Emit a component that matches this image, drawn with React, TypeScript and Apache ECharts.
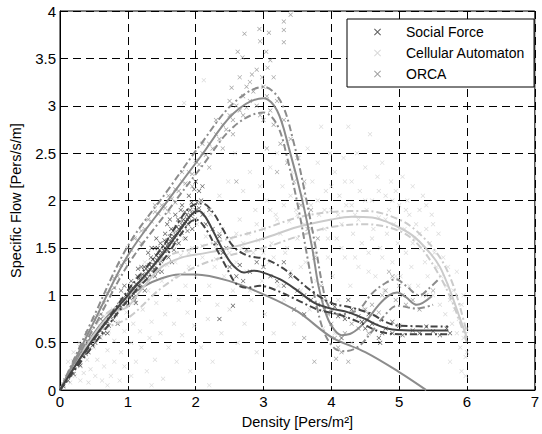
import React, { useEffect, useRef } from "react";
import * as echarts from "echarts";

// ---- Data ----
const xTicks = [0, 1, 2, 3, 4, 5, 6, 7];
const yTicks = [0, 0.5, 1, 1.5, 2, 2.5, 3, 3.5, 4];

const sfPoints: number[][] = [
  [0.05,0.04],[0.08,0.1],[0.12,0.1],[0.15,0.16],[0.18,0.2],[0.2,0.17],[0.22,0.25],[0.25,0.27],[0.28,0.3],[0.3,0.26],
  [0.33,0.36],[0.35,0.4],[0.38,0.38],[0.4,0.45],[0.42,0.4],[0.45,0.5],[0.48,0.47],[0.5,0.55],[0.52,0.5],[0.55,0.6],
  [0.58,0.56],[0.6,0.63],[0.62,0.66],[0.65,0.6],[0.68,0.7],[0.7,0.72],[0.72,0.68],[0.75,0.78],[0.78,0.74],[0.8,0.82],
  [0.82,0.8],[0.85,0.86],[0.87,0.9],[0.9,0.88],[0.92,0.95],[0.95,0.92],[0.97,1.0],[1.0,0.98],[1.02,1.04],[1.05,1.0],
  [1.07,1.08],[1.1,1.05],[1.12,1.12],[1.15,1.1],[1.17,1.18],[1.2,1.15],[1.22,1.22],[1.25,1.2],[1.27,1.28],[1.3,1.25],
  [1.32,1.32],[1.35,1.3],[1.37,1.38],[1.4,1.35],[1.42,1.42],[1.45,1.4],[1.47,1.48],[1.5,1.45],[1.52,1.52],[1.55,1.5],
  [1.57,1.56],[1.6,1.55],[1.62,1.62],[1.65,1.6],[1.67,1.68],[1.7,1.64],[1.72,1.72],[1.75,1.7],[1.77,1.78],[1.8,1.74],
  [1.82,1.8],[1.85,1.78],[1.87,1.85],[1.9,1.82],[1.92,1.9],[1.95,1.86],[1.97,1.95],[2.0,1.9],[2.02,1.98],[2.05,1.92],
  [2.08,2.0],[2.1,1.85],[0.9,1.05],[1.1,0.95],[1.2,1.3],[1.3,1.15],[1.4,1.5],[1.45,1.25],[1.55,1.65],[1.6,1.4],
  [1.7,1.85],[1.75,1.55],[1.8,1.95],[1.85,1.6],[1.9,2.05],[1.95,1.7],[2.0,2.2],[2.05,2.1],[1.98,2.12],[2.1,2.15],
  [1.65,1.35],[1.5,1.25],[1.3,1.45],[1.15,1.28],[1.0,0.9],[0.85,0.7],[0.7,0.6],[0.6,0.75],[0.45,0.55],[1.4,1.2],
  [1.25,1.05],[1.12,0.92],[1.05,1.15],[0.95,1.1],[1.35,1.5],[1.58,1.75],[1.68,1.48],[1.88,1.68],[1.78,1.9],[1.62,1.8],
  [1.42,1.6],[1.48,1.55],
  [1.03,0.97],[1.08,1.02],[1.13,1.07],[1.18,1.12],[1.23,1.17],[1.28,1.22],[1.33,1.27],[1.38,1.32],[1.43,1.37],[1.48,1.42],
  [1.53,1.47],[1.58,1.52],[1.63,1.57],[1.68,1.62],[1.73,1.66],[1.78,1.72],[1.83,1.76],[1.88,1.8],[1.93,1.84],[1.98,1.88],
  [1.04,1.1],[1.14,1.2],[1.24,1.3],[1.34,1.4],[1.44,1.5],[1.54,1.58],[1.64,1.7],[1.74,1.8],[1.84,1.88],[1.94,1.98],
  [1.09,0.98],[1.19,1.08],[1.29,1.18],[1.39,1.28],[1.49,1.36],[1.59,1.47],[1.69,1.56],[1.79,1.66],[1.89,1.75],[1.99,1.8],
  [2.15,1.75],[2.2,1.9],[2.25,1.7],[2.3,1.55],[2.35,1.62],[2.4,1.45],[2.45,1.5],[2.5,1.3],
  [2.55,0.89],[2.6,1.2],[2.65,1.32],[2.7,1.15],[2.75,1.48],[2.8,1.25],[2.9,1.35],[3.0,1.3],[3.1,1.2],[3.2,1.15],
  [3.3,1.1],[3.4,1.2],[3.5,1.05],[3.6,1.0],[3.7,0.95],[3.8,0.9],[3.9,0.85],[4.0,0.82],[4.05,0.88],[4.1,0.78],
  [4.2,0.75],[4.3,0.85],[4.4,0.78],[4.45,0.72],[4.5,0.65],[4.55,0.8],[4.6,0.7],[4.7,0.55],[4.72,0.5],[4.75,0.6],
  [4.8,0.65],[4.9,0.6],[5.0,0.68],[5.05,0.58],[5.2,0.63],[5.3,0.6],[5.4,0.67],[5.5,0.62],[5.6,0.58],[5.7,0.65],
  [5.75,0.6],[3.3,1.35],[3.6,0.8],[4.25,0.95],[4.9,0.72],[2.35,0.75],[3.45,0.85],[4.15,0.55]
];

const caPoints: number[][] = [
  [0.05,0.05],[0.1,0.12],[0.12,0.3],[0.15,0.08],[0.18,0.22],[0.2,0.4],[0.22,0.15],[0.25,0.3],[0.28,0.5],[0.3,0.1],
  [0.3,0.25],[0.32,0.42],[0.35,0.18],[0.38,0.55],[0.4,0.32],[0.42,0.08],[0.45,0.62],[0.45,0.22],[0.5,0.45],[0.52,0.15],
  [0.55,0.7],[0.55,0.32],[0.6,0.55],[0.62,0.1],[0.65,0.78],[0.65,0.25],[0.7,0.42],[0.72,0.62],[0.75,0.15],[0.78,0.85],
  [0.8,0.3],[0.8,0.52],[0.85,0.72],[0.88,0.1],[0.9,0.95],[0.9,0.4],[0.95,0.25],[0.95,0.62],[0.98,0.82],
  [1.02,1.05],[1.05,0.5],[1.05,0.15],[1.08,0.7],[1.1,0.92],[1.12,0.3],[1.15,1.2],[1.18,0.62],[1.2,0.45],[1.22,0.85],
  [1.25,1.35],[1.28,0.2],[1.3,1.05],[1.32,0.55],[1.35,0.72],[1.38,1.25],[1.4,0.32],[1.42,0.92],[1.45,1.45],[1.48,0.6],
  [1.5,1.15],[1.52,0.12],[1.55,0.8],[1.58,1.32],[1.6,0.45],[1.62,1.0],[1.65,1.5],[1.68,0.7],[1.7,1.2],[1.72,0.3],
  [1.75,0.95],[1.78,1.42],[1.8,0.58],[1.82,1.6],[1.83,3.03],[1.85,1.1],[1.88,0.82],[1.9,1.3],[1.92,0.2],[1.95,1.5],
  [1.98,0.68],[2.0,1.2],[2.02,1.75],[2.05,0.95],[2.08,0.45],[2.1,1.4],[2.12,3.27],[2.15,1.62],[2.18,0.75],[2.2,1.1],
  [2.22,1.85],[2.25,0.3],[2.28,1.3],[2.3,1.52],[2.32,0.9],[2.35,2.05],[2.38,0.6],[2.4,1.7],[2.42,1.2],[2.45,1.42],
  [2.48,2.2],[2.5,0.85],[2.52,1.6],[2.55,1.05],[2.58,2.5],[2.6,1.35],[2.62,0.5],[2.65,1.8],[2.68,1.5],[2.7,2.1],
  [2.72,0.7],[2.75,1.25],[2.78,1.65],[2.8,2.3],[2.82,0.95],[2.85,1.45],[2.88,1.9],[2.9,0.4],[2.92,1.58],[2.95,2.15],
  [2.98,1.15],[3.0,1.7],[3.02,0.8],[3.05,2.0],[3.08,1.35],[3.1,2.35],[3.12,1.55],[3.15,0.6],[3.18,1.85],[3.2,2.5],
  [3.22,1.1],[3.25,1.65],[3.28,2.15],[3.3,0.95],[3.32,1.45],[3.35,2.6],[3.38,1.78],[3.4,1.25],[3.42,2.3],[3.45,0.7],
  [3.48,1.9],[3.5,1.6],[3.52,2.45],[3.55,1.05],[3.58,2.05],[3.6,1.75],[3.62,1.35],[3.65,2.55],[3.68,0.85],[3.7,1.95],
  [3.72,2.2],[3.75,1.55],[3.78,1.15],[3.8,2.4],[3.82,1.85],[3.85,2.78],[3.88,0.65],[3.9,1.7],[3.92,2.1],[3.95,1.4],
  [3.98,2.5],[4.0,1.9],[4.02,1.2],[4.05,2.3],[4.08,1.6],[4.1,0.95],[4.12,2.05],[4.15,1.75],[4.18,2.45],[4.2,1.4],
  [4.22,1.95],[4.25,2.78],[4.28,1.1],[4.3,2.2],[4.32,1.65],[4.35,1.85],[4.38,2.5],[4.4,1.3],[4.42,2.1],[4.45,1.55],
  [4.48,0.85],[4.5,2.35],[4.52,1.9],[4.55,1.45],[4.57,2.7],[4.6,2.0],[4.62,1.7],[4.65,1.2],[4.68,2.25],[4.7,1.82],
  [4.72,1.5],[4.75,2.4],[4.78,1.05],[4.8,2.05],[4.82,1.65],[4.85,1.9],[4.88,2.2],[4.9,1.35],[4.92,1.75],[4.95,2.1],
  [4.98,1.55],[5.0,1.95],[5.02,1.2],[5.05,2.25],[5.08,1.7],[5.1,1.45],[5.12,2.0],[5.15,1.85],[5.18,1.3],[5.2,2.15],
  [5.22,1.6],[5.25,1.75],[5.28,1.1],[5.3,1.9],[5.32,1.5],[5.35,2.05],[5.38,1.35],[5.4,1.7],[5.42,1.2],[5.45,1.55],
  [5.48,1.85],[5.5,1.0],[5.52,1.45],[5.55,1.3],[5.58,1.65],[5.6,0.9],[5.62,1.2],[5.65,1.4],[5.68,0.8],[5.7,1.1],
  [5.72,1.3],[5.75,0.95],[5.78,0.7],[5.8,1.05],[5.82,0.85],[5.85,0.6],[5.88,0.75],[5.9,0.45],[5.92,0.9],[5.95,0.55],
  [5.98,0.35],[6.0,0.65],[5.92,0.2],[5.75,0.3],
  [3.1,1.9],[3.2,1.8],[3.3,1.95],[3.4,2.05],[3.5,1.85],[3.6,2.15],[3.7,1.7],[3.8,2.0],[3.9,1.9],[4.0,2.15],
  [4.1,1.85],[4.2,2.2],[4.3,1.95],[4.4,1.8],[4.5,2.0],[4.6,1.6],[4.7,2.1],[4.8,1.8],[4.9,2.0],[5.0,1.7],
  [5.1,1.9],[5.2,1.55],[5.3,1.65],[5.4,1.95],[5.5,1.75],[3.15,1.4],[3.35,1.5],[3.55,1.3],[3.75,1.45],[3.95,1.6],
  [4.15,1.5],[4.35,1.4],[4.55,1.25],[4.75,1.4],[4.95,1.2],[5.15,1.1],[5.35,1.0],[2.5,1.45],[2.7,1.55],[2.9,1.75],
  [2.3,1.38],[2.1,1.52],[1.9,1.45],[1.7,1.35],[2.6,1.65],[2.8,1.05],[3.0,1.45],[4.05,0.6],[4.3,0.5],[5.85,1.25],
  [5.95,1.0],[6.0,0.4],[5.98,0.15],[1.35,0.05],[2.2,0.05],[0.7,0.05]
];

const orcaPoints: number[][] = [
  [0.05,0.06],[0.1,0.14],[0.15,0.2],[0.2,0.3],[0.25,0.34],[0.3,0.45],[0.35,0.48],[0.4,0.6],[0.45,0.62],[0.5,0.75],
  [0.55,0.78],[0.6,0.88],[0.65,0.92],[0.7,1.02],[0.75,1.05],[0.8,1.18],[0.85,1.2],[0.9,1.32],[0.95,1.35],[1.0,1.5],
  [1.05,1.48],[1.1,1.6],[1.15,1.58],[1.2,1.68],[1.25,1.7],[1.3,1.8],[1.35,1.78],[1.4,1.88],[1.45,1.86],[1.5,1.95],
  [1.55,1.92],[1.6,2.05],[1.65,2.02],[1.7,2.12],[1.75,2.1],[1.8,2.2],[1.85,2.18],[1.9,2.3],[1.95,2.28],[2.0,2.42],
  [2.05,2.38],[2.1,2.5],[2.15,2.48],[2.2,2.6],[2.25,2.55],[2.3,2.7],[2.35,2.65],[2.4,2.8],[2.45,2.75],[2.5,2.9],
  [2.55,2.85],[2.6,3.0],[2.65,2.95],[2.7,3.1],[2.75,2.98],
  [0.3,0.35],[0.6,0.8],[0.8,1.08],[1.0,1.38],[1.2,1.55],[1.4,1.95],[1.6,1.88],[1.8,2.3],[2.0,2.2],[2.2,2.35],
  [2.3,2.85],[2.4,2.55],[2.5,3.05],[2.55,2.7],[1.95,2.15],[2.1,2.6],[1.7,1.98],
  [2.53,3.19],[2.62,3.57],[2.69,3.51],[2.72,3.76],[2.8,3.25],[2.83,3.33],[2.9,3.38],[2.94,3.81],[2.95,3.68],[3.04,3.57],
  [3.06,3.4],[3.08,3.77],[3.1,3.48],[3.3,3.89],[3.3,3.8],[3.3,3.67],[3.4,3.96],[2.8,3.05],[2.85,3.15],[2.9,3.0],
  [2.95,2.9],[3.0,3.2],[3.0,2.85],[3.05,3.1],[3.1,2.95],[3.15,3.3],[3.15,2.8],[3.2,3.05],[3.25,2.6],[3.3,2.85],
  [3.35,2.4],[3.4,2.65],[3.45,2.2],[3.5,2.45],[3.55,1.95],[3.6,2.2],[3.65,1.7],[3.7,1.9],[3.75,1.4],[3.8,1.6],
  [3.85,1.1],[3.9,0.95],[3.95,0.8],[4.0,0.7],[4.05,0.55],[4.1,0.45],[2.7,2.9],[2.75,3.2],[2.65,3.3],[2.98,3.3],
  [4.2,0.6],[4.25,0.3],[4.3,0.7],[4.4,0.65],[4.5,0.85],[4.55,0.6],[4.6,0.9],[4.7,0.82],[4.75,1.0],[4.8,1.05],
  [4.85,1.25],[4.9,1.2],[4.95,0.95],[5.0,1.1],[5.05,1.0],[5.1,0.9],[5.2,0.95],[5.3,0.85],[5.4,1.0],[5.5,1.05],
  [4.45,0.72],[3.75,0.3],[4.15,0.4],[3.6,0.55],[2.6,2.2],[2.35,1.65],[3.05,2.55],[3.2,2.3],[4.07,0.33]
];

// Mean and mean +/- std curves
const sfMean: number[][] = [
  [0,0],[0.5,0.55],[1.0,1.0],[1.5,1.42],[1.8,1.72],[1.95,1.86],[2.05,1.89],[2.15,1.82],[2.27,1.66],[2.4,1.48],
  [2.51,1.35],[2.62,1.27],[2.71,1.24],[2.85,1.26],[2.95,1.25],[3.24,1.17],[3.5,1.05],[3.75,0.92],[4.0,0.86],[4.25,0.82],
  [4.5,0.75],[4.7,0.68],[4.9,0.64],[5.3,0.63],[5.72,0.63]
];
const sfUpper: number[][] = [
  [0,0],[1,1.05],[1.5,1.5],[1.9,1.92],[2.1,1.97],[2.25,1.88],[2.4,1.7],[2.55,1.52],[2.76,1.42],[3.04,1.38],
  [3.38,1.24],[3.7,1.05],[4.0,0.92],[4.3,0.87],[4.6,0.8],[4.8,0.72],[5.0,0.68],[5.72,0.67]
];
const sfLower: number[][] = [
  [0,0],[1,0.95],[1.5,1.35],[1.9,1.76],[2.0,1.8],[2.15,1.7],[2.3,1.5],[2.45,1.3],[2.6,1.12],[2.75,1.08],
  [2.95,1.1],[3.2,1.05],[3.5,0.95],[3.8,0.85],[4.1,0.8],[4.4,0.72],[4.7,0.62],[5.0,0.59],[5.72,0.59]
];

const caMean: number[][] = [
  [0,0],[0.3,0.35],[0.6,0.68],[0.8,0.82],[1.0,0.88],[1.2,1.06],[1.5,1.3],[1.8,1.4],[2.1,1.44],[2.5,1.5],
  [3.0,1.6],[3.5,1.72],[4.0,1.8],[4.3,1.83],[4.6,1.82],[4.9,1.75],[5.2,1.63],[5.45,1.45],[5.6,1.3],[5.75,1.05],
  [5.9,0.75],[6.0,0.55]
];
const caUpper: number[][] = [
  [0,0],[0.5,0.68],[1,0.98],[1.5,1.38],[2,1.5],[2.5,1.6],[3,1.7],[3.5,1.82],[4,1.88],[4.5,1.89],
  [5,1.8],[5.3,1.65],[5.6,1.4],[5.8,1.1],[6.0,0.6]
];
const caLower: number[][] = [
  [0,0],[0.5,0.58],[1,0.76],[1.5,1.08],[2,1.3],[2.5,1.42],[3,1.5],[3.5,1.62],[4,1.72],[4.5,1.75],
  [5,1.68],[5.3,1.52],[5.6,1.2],[5.8,0.9],[6.0,0.5]
];

const orcaMean: number[][] = [
  [0,0],[0.5,0.72],[1.0,1.42],[1.6,2.01],[2.08,2.47],[2.56,2.92],[3.0,3.08],[3.2,2.95],[3.38,2.54],[3.57,2.01],
  [3.72,1.49],[3.81,1.1],[3.9,0.85],[4.0,0.68],[4.15,0.58],[4.3,0.6],[4.5,0.72],[4.7,0.9],[4.85,1.0],[4.97,1.03],
  [5.1,0.98],[5.26,0.9],[5.48,0.99]
];
const orcaUpper: number[][] = [
  [0,0],[0.5,0.78],[1,1.52],[1.6,2.12],[2.08,2.6],[2.56,3.03],[3.0,3.2],[3.25,3.05],[3.45,2.6],[3.62,2.05],
  [3.77,1.5],[3.87,1.1],[3.95,0.9],[4.1,0.8],[4.4,0.85],[4.6,1.02],[4.8,1.13],[4.95,1.17],[5.1,1.1],[5.3,1.0],
  [5.45,1.08],[5.57,1.16]
];
const orcaLower: number[][] = [
  [0,0],[0.5,0.66],[1,1.32],[1.6,1.9],[2.08,2.35],[2.56,2.78],[3.0,2.93],[3.2,2.8],[3.35,2.45],[3.52,1.9],
  [3.66,1.35],[3.78,0.9],[3.9,0.6],[4.05,0.44],[4.2,0.41],[4.4,0.46],[4.6,0.62],[4.8,0.8],[4.97,0.89],[5.26,0.86],
  [5.5,0.9]
];

const weidmann: number[][] = [
  [0,0],[0.25,0.33],[0.5,0.6],[0.75,0.82],[1.0,0.98],[1.25,1.1],[1.5,1.18],[1.75,1.22],[2.0,1.22],[2.5,1.15],
  [3.0,1.01],[3.5,0.83],[4.0,0.56],[4.5,0.4],[5.0,0.19],[5.4,0]
];

const seriesNames = ["Social Force", "Cellular Automaton", "ORCA"];

// ---- Styles ----
const FONT = "'Liberation Sans', Arial, sans-serif";
const XMARK = "path://M0,1 L1,0 L5,4 L9,0 L10,1 L6,5 L10,9 L9,10 L5,6 L1,10 L0,9 L4,5 Z";
const C_SF = "#353535";
const C_CA = "#d0d0d0";
const C_ORCA = "#8a8a8a";
const L_SF = "#444444";
const L_CA = "#cbcbcb";
const L_ORCA = "#8c8c8c";
const DASHDOT = [7, 3, 2, 3];

function scatter(name: string, data: number[][], color: string) {
  return {
    name,
    type: "scatter",
    data,
    symbol: XMARK,
    symbolSize: 4.5,
    itemStyle: { color },
    silent: true,
  };
}

function line(data: number[][], color: string, dashed: boolean) {
  return {
    type: "line",
    data,
    smooth: 0.35,
    showSymbol: false,
    symbol: "none",
    silent: true,
    lineStyle: { color, width: 2, type: dashed ? DASHDOT : "solid" },
    z: 3,
  };
}

export default function App() {
  const ref = useRef<HTMLDivElement>(null);

  useEffect(() => {
    if (!ref.current) return;
    const chart = echarts.init(ref.current, undefined, { renderer: "svg" });
    const gridLine = { show: true, lineStyle: { color: "#000", width: 1, type: [8, 5] } };
    chart.setOption({
      animation: false,
      backgroundColor: "#ffffff",
      textStyle: { fontFamily: FONT },
      grid: {
        left: 57, right: 3, top: 11, bottom: 42,
        show: true, borderColor: "#000", borderWidth: 1,
      },
      legend: {
        data: seriesNames,
        orient: "vertical",
        left: 347,
        top: 19,
        padding: [6, 9, 6, 27],
        itemWidth: 7,
        itemHeight: 7,
        itemGap: 7,
        icon: XMARK,
        borderColor: "#000",
        borderWidth: 1,
        backgroundColor: "#fff",
        textStyle: { fontSize: 14, color: "#000", fontFamily: FONT, padding: [0, 0, 0, 20] },
      },
      xAxis: {
        type: "value",
        min: xTicks[0],
        max: xTicks[xTicks.length - 1],
        interval: 1,
        name: "Density [Pers/m²]",
        nameLocation: "middle",
        nameGap: 23,
        nameTextStyle: { fontSize: 14.5, color: "#000", fontFamily: FONT },
        axisLine: { show: true, onZero: false, lineStyle: { color: "#000" } },
        axisTick: { show: true, inside: true, length: 4, lineStyle: { color: "#000" } },
        axisLabel: { fontSize: 15, color: "#000", margin: 4, fontFamily: FONT },
        splitLine: gridLine,
      },
      yAxis: {
        type: "value",
        min: yTicks[0],
        max: yTicks[yTicks.length - 1],
        interval: 0.5,
        name: "Specific Flow [Pers/s/m]",
        nameLocation: "middle",
        nameGap: 37,
        nameTextStyle: { fontSize: 14.5, color: "#000", fontFamily: FONT },
        axisLine: { show: true, onZero: false, lineStyle: { color: "#000" } },
        axisTick: { show: true, inside: true, length: 4, lineStyle: { color: "#000" } },
        axisLabel: { fontSize: 15, color: "#000", margin: 4, fontFamily: FONT },
        splitLine: gridLine,
      },
      series: [
        scatter(seriesNames[1], caPoints, C_CA),
        scatter(seriesNames[2], orcaPoints, C_ORCA),
        scatter(seriesNames[0], sfPoints, C_SF),
        line(weidmann, L_ORCA, false),
        line(caMean, L_CA, false),
        line(caUpper, L_CA, true),
        line(caLower, L_CA, true),
        line(orcaMean, L_ORCA, false),
        line(orcaUpper, L_ORCA, true),
        line(orcaLower, L_ORCA, true),
        line(sfMean, L_SF, false),
        line(sfUpper, L_SF, true),
        line(sfLower, L_SF, true),
      ],
    });
    return () => chart.dispose();
  }, []);

  return (
    <div
      ref={ref}
      style={{ position: "fixed", left: 0, top: 0, width: 542, height: 434, background: "#fff" }}
    />
  );
}
